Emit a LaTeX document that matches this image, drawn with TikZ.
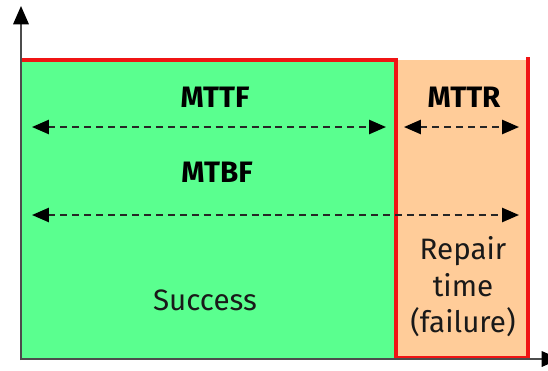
\documentclass[tikz,border=0pt]{standalone}
\usepackage{fontspec}
\setmainfont{Fira Sans}
\usetikzlibrary{arrows.meta}

\definecolor{upgreen}{RGB}{90,255,143}
\definecolor{downorange}{RGB}{255,204,153}
\definecolor{borderred}{RGB}{240,20,20}

\tikzset{
  label/.style={font=\fontsize{21}{26}\selectfont\bfseries, text=black},
  state/.style={font=\fontsize{21}{26}\selectfont, text=black!90, align=center},
  span/.style={dashed, dash pattern=on 5pt off 3.5pt, line width=1.5pt, black!85,
    {Triangle[length=12pt,width=10pt,black]}-{Triangle[length=12pt,width=10pt,black]}},
  axis/.style={line width=1.3pt, black!70, -{Triangle[length=13pt,width=11pt,black]}}
}

\begin{document}
\begin{tikzpicture}[x=0.025cm,y=-0.025cm]
\useasboundingbox (0,0) rectangle (548,370);

\fill[upgreen] (22,60) rectangle (396,358);
\fill[downorange] (396,60) rectangle (528,358);
\draw[borderred, line width=2.4pt] (22,60) -- (396,60) -- (396,358) -- (528,358) -- (528,57);

\draw[axis] (21,360) -- (21,6);
\draw[axis] (20,359) -- (560,359);

\node[label] (mttf) at (215,97) {MTTF};
\node[label] (mttr) at (464,97) {MTTR};
\node[label] (mtbf) at (217,172) {MTBF};
\node[state] (success) at (205,300) {Success};
\node[state] (repair) at (463,287) {Repair\\time\\(failure)};

\coordinate (ttfa) at (32,127);
\coordinate (ttfb) at (386,127);
\coordinate (ttra) at (404,127);
\coordinate (ttrb) at (519,127);
\coordinate (tbfa) at (32,215);
\coordinate (tbfb) at (519,215);

\draw[span] (ttfa) -- (ttfb);
\draw[span] (ttra) -- (ttrb);
\draw[span] (tbfa) -- (tbfb);

\end{tikzpicture}
\end{document}
